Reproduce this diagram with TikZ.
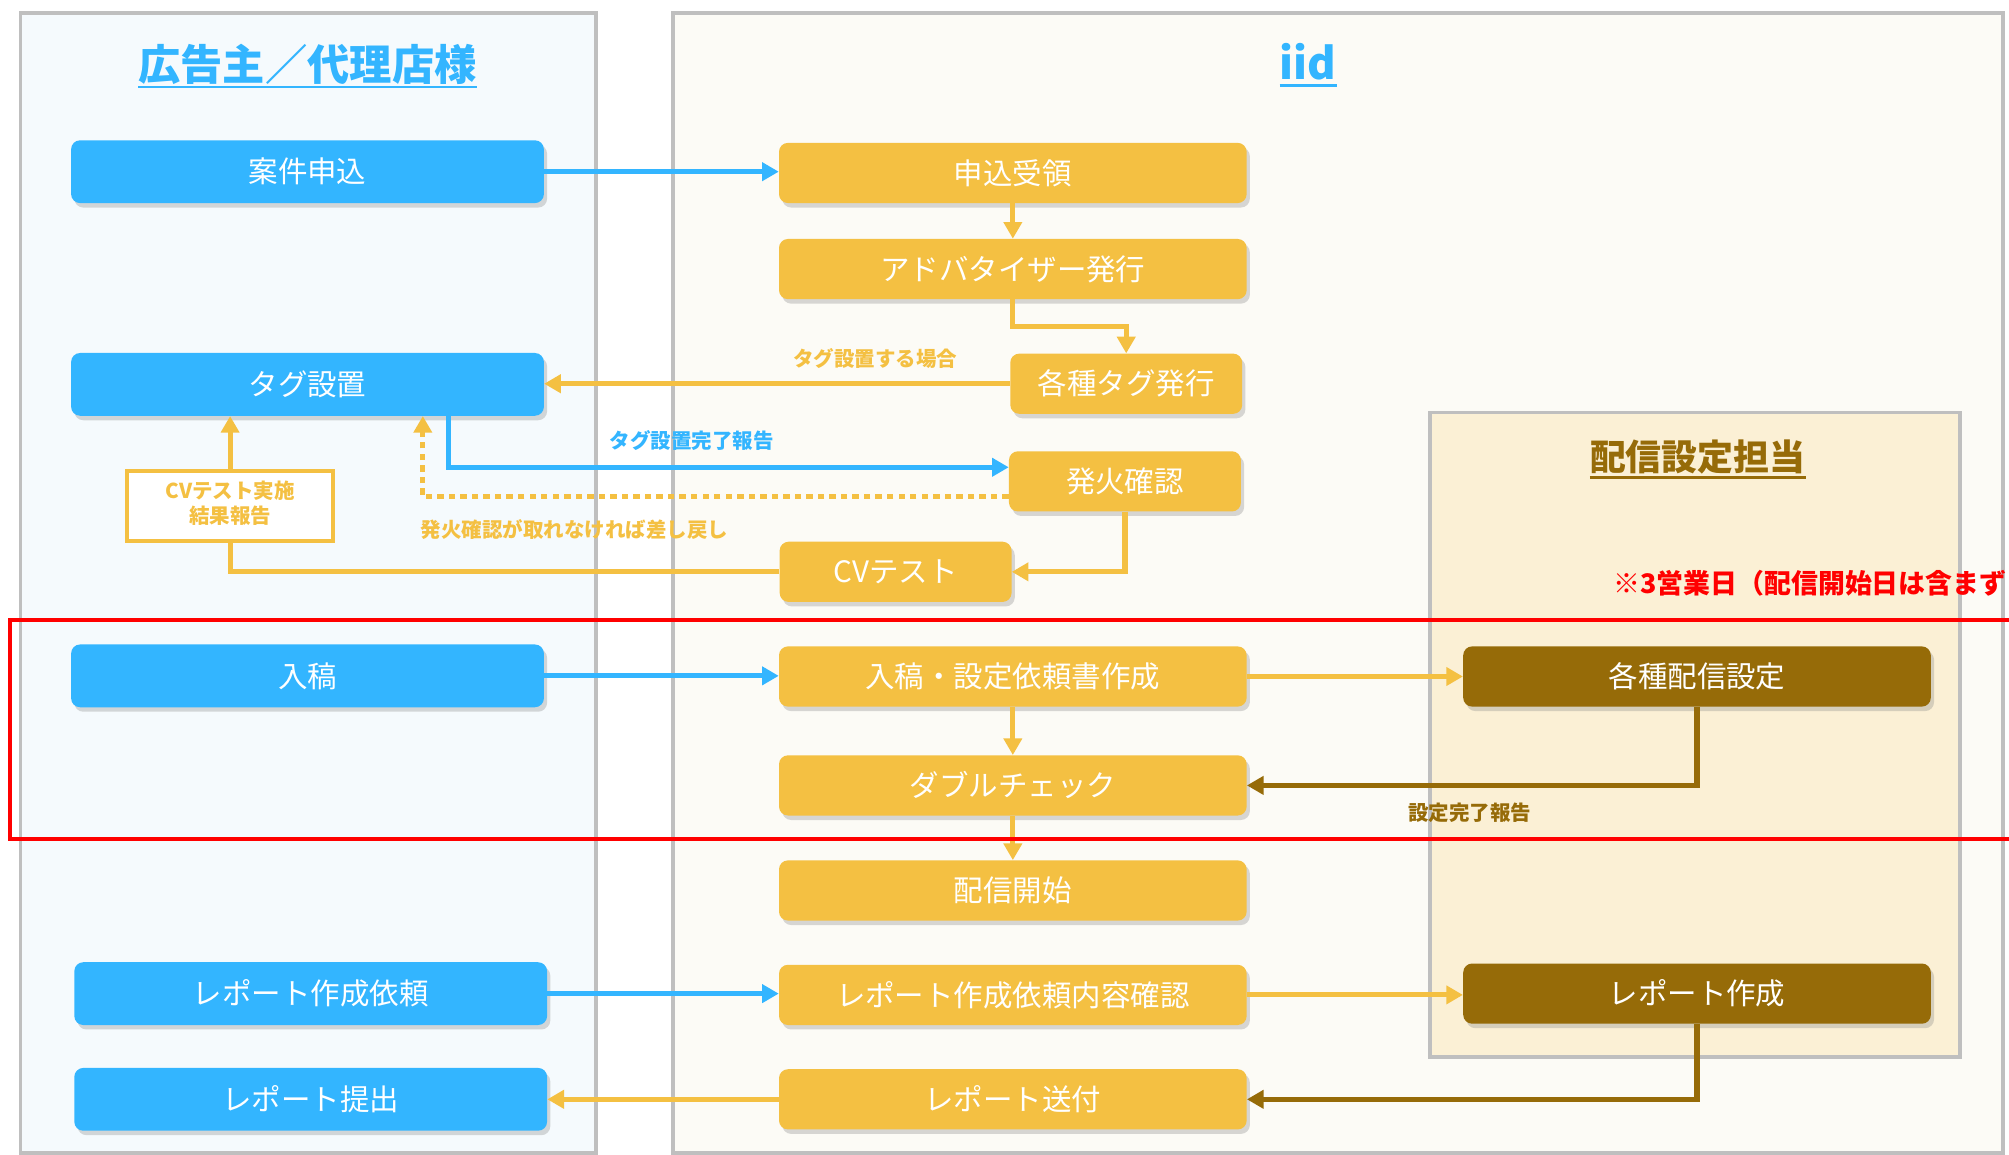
\documentclass[tikz,border=0pt]{standalone}
\usepackage{fontspec}
\setmainfont{Noto Sans CJK JP}
\usetikzlibrary{arrows.meta,shadows}
\definecolor{cblue}{HTML}{33B5FF}
\definecolor{iyel}{HTML}{F4C042}
\definecolor{dbrown}{HTML}{966B08}
\definecolor{panelline}{HTML}{BFBFBF}
\definecolor{cpanel}{HTML}{F5FAFD}
\definecolor{ipanel}{HTML}{FCFBF6}
\definecolor{dpanel}{HTML}{FBF0D5}
\newcommand{\twoline}[2]{\begin{tabular}{@{}c@{}}#1\\#2\end{tabular}}

\begin{document}
\begin{tikzpicture}[x=1pt,y=-1pt,
    flowbox/.style={rounded corners=7pt,minimum height=47pt,inner sep=0pt,text=white,
                    font=\fontsize{23}{27}\selectfont,
                    drop shadow={shadow xshift=2.5pt,shadow yshift=-3.5pt,opacity=.3}},
    cbox/.style={flowbox,fill=cblue,minimum width=369pt,minimum height=49pt},
    ibox/.style={flowbox,fill=iyel,minimum width=365pt},
    sbox/.style={flowbox,fill=iyel,minimum width=181pt},
    dbox/.style={flowbox,fill=dbrown,minimum width=365pt},
    lbl/.style={font=\bfseries\fontsize{16}{19}\selectfont,inner sep=0pt},
    ttl/.style={font=\bfseries\fontsize{33}{40}\selectfont,inner sep=0pt},
    flow/.style={line width=4pt,-{Triangle[length=13pt,width=14pt]}},
    link/.style={line width=4pt},
    panel/.style={draw=panelline,line width=3pt}]
  \fill[white] (0,0) rectangle (1568,901);
  \useasboundingbox (0,0) rectangle (1568,901);
  % lanes
  \filldraw[panel,fill=cpanel] (16,10) rectangle (465,900);
  \filldraw[panel,fill=ipanel] (525,10) rectangle (1563,900);
  \filldraw[panel,fill=dpanel] (1116,322) rectangle (1530,825);
  \node[ttl,text=cblue] (TTLc) at (240,50) {広告主／代理店様};
  \draw[cblue,line width=2pt] ([yshift=-2pt]TTLc.south west) -- ([yshift=-2pt]TTLc.south east);
  \node[ttl,text=cblue,font=\bfseries\fontsize{34}{40}\selectfont] (TTLi) at (1021,48) {iid};
  \draw[cblue,line width=2pt] ([yshift=-4pt]TTLi.south west) -- ([yshift=-4pt]TTLi.south east);
  \node[ttl,text=dbrown,font=\bfseries\fontsize{28}{34}\selectfont] (TTLd) at (1325,357) {配信設定担当};
  \draw[dbrown,line width=2pt] ([yshift=-2pt]TTLd.south west) -- ([yshift=-2pt]TTLd.south east);
  \node[lbl,text=red,font=\bfseries\fontsize{21}{25}\selectfont,anchor=west] (NOTE) at (1259,455) {※3営業日（配信開始日は含まず};
  % steps
  \node[cbox] (APPc) at (240,134) {案件申込};
  \node[ibox] (RCVi) at (790.5,135) {申込受領};
  \node[ibox] (ADVi) at (790.5,210) {アドバタイザー発行};
  \node[sbox] (TAGi) at (879,299.5) {各種タグ発行};
  \node[cbox] (TAGc) at (240,300) {タグ設置};
  \node[sbox] (FIREi) at (878,375.7) {発火確認};
  \node[sbox] (CVi) at (699,446.3) {CVテスト};
  \node[draw=iyel,fill=white,line width=3pt,inner sep=0pt,minimum width=161pt,minimum height=55pt,
        text=iyel,font=\bfseries\fontsize{16}{19.5}\selectfont] (CVRc) at (179.6,395) {\twoline{CVテスト実施}{結果報告}};
  \node[cbox] (SUBc) at (240,527.5) {入稿};
  \node[ibox] (ORDi) at (790.5,528) {入稿・設定依頼書作成};
  \node[dbox] (DLVd) at (1324.5,528) {各種配信設定};
  \node[ibox] (DBLi) at (790.5,613) {ダブルチェック};
  \node[ibox] (STARTi) at (790.5,695) {配信開始};
  \node[cbox] (REQc) at (242.5,775.5) {レポート作成依頼};
  \node[ibox] (REQi) at (790.5,776.5) {レポート作成依頼内容確認};
  \node[dbox] (REPd) at (1324.5,775.5) {レポート作成};
  \node[cbox] (RECc) at (242.5,858) {レポート提出};
  \node[ibox] (SENDi) at (790.5,858) {レポート送付};
  % labels
  \node[lbl,text=iyel] (TAGlbl) at (683,279.5) {タグ設置する場合};
  \node[lbl,text=cblue] (DONElbl) at (540,344) {タグ設置完了報告};
  \node[lbl,text=iyel] (BACKlbl) at (448.5,413) {発火確認が取れなければ差し戻し};
  \node[lbl,text=dbrown] (SETlbl) at (1147,634.5) {設定完了報告};
  % tag setup
  \draw[flow,cblue] (APPc.east) -- (APPc.east -| RCVi.west);
  \draw[flow,iyel] (RCVi) -- (ADVi);
  \draw[flow,iyel] (ADVi.south) -- ++(0,21) -| (TAGi.north);
  \draw[flow,iyel] (TAGi.west) -- (TAGi.west -| TAGc.east);
  \draw[flow,cblue] ([xshift=110pt]TAGc.south) |- ([yshift=11pt]FIREi.west);
  \draw[flow,iyel,dash pattern=on 5pt off 4pt] ([yshift=-12pt]FIREi.west) -| ([xshift=90pt]TAGc.south);
  \draw[flow,iyel] (FIREi.south) |- (CVi.east);
  \draw[link,iyel] (CVi.west) -| (CVRc.south);
  \draw[flow,iyel] (CVRc.north) -- (CVRc.north |- TAGc.south);
  % delivery
  \draw[flow,cblue] (SUBc.east) -- (SUBc.east -| ORDi.west);
  \draw[flow,iyel] (ORDi.east) -- (DLVd.west);
  \draw[flow,iyel] (ORDi) -- (DBLi);
  \draw[flow,dbrown] (DLVd.south) |- (DBLi.east);
  \draw[flow,iyel] (DBLi) -- (STARTi);
  % report
  \draw[flow,cblue] (REQc.east) -- (REQc.east -| REQi.west);
  \draw[flow,iyel] (REQi.east) -- (REQi.east -| REPd.west);
  \draw[flow,dbrown] (REPd.south) |- (SENDi.east);
  \draw[flow,iyel] (SENDi.west) -- (SENDi.west -| RECc.east);
  %\draw[red] (1568,484) -- (8,484);
  \draw[red,line width=3.5pt] (1590,484) -- (8,484) -- (8,655) -- (1590,655);
\end{tikzpicture}
\end{document}
